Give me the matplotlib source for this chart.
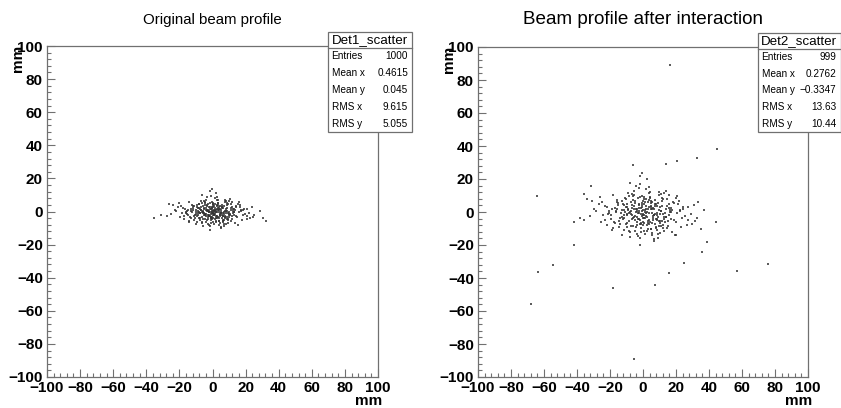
import matplotlib
matplotlib.use("Agg")
import matplotlib.pyplot as plt
from matplotlib.patches import Rectangle
from matplotlib.lines import Line2D
from matplotlib.ticker import MultipleLocator

plt.rcParams['font.family'] = ['Liberation Sans', 'DejaVu Sans']

# hit positions (mm)
det1_xy = [
    (-3.1, 1.2), (7.4, -2.8), (12.6, 0.5), (-0.7, -4.1), (4.3, 3.6), (-15.2, -1.3), (2.8, -0.4), (-8.6, 2.2), (0.4, -6.3), (18.9, 1.7), (-5.5, -0.9), (9.1, 4.4), (-1.9, -2.5), (3.6, 0.8), (-11.4, 3.1),
    (6.2, -5.2), (-21.8, 0.3), (1.5, 7.9), (15.1, -3.4), (-4.7, 5.3), (10.5, -1.6), (-2.2, -8.2), (5.9, 2.7), (-7.3, -3.7), (1.0, 0.1), (22.3, -0.8), (-13.9, -5.6), (3.2, 4.9), (-0.1, -1.1), (8.3, 6.1),
    (-9.7, 0.7), (2.4, -3.0), (16.4, 2.9), (-6.1, -7.0), (4.8, 1.4), (-1.2, 9.6), (11.8, -4.8), (-17.9, 2.0), (6.7, -0.2), (-3.6, 3.8), (0.7, -2.1), (-10.2, -0.5), (7.6, 5.7), (13.4, -6.9), (-2.6, 0.9),
    (1.8, -4.5), (-6.8, 6.6), (25.1, -1.9), (-0.5, 2.4), (5.2, -9.3), (-14.6, 1.1), (9.7, -2.3), (-4.3, -1.7), (2.5, 3.3), (17.3, 0.4), (-8.1, -4.0), (3.9, -6.0), (-1.4, 5.1), (6.5, 1.9), (-27.6, -2.6),
    (0.2, 0.6), (-12.3, 4.2), (8.8, -3.1), (-3.3, -5.0), (14.2, 3.0), (-5.9, 0.0), (2.1, 11.2), (-0.9, -3.6), (10.9, 0.9), (-7.7, 1.6), (4.5, -1.4), (-19.4, -3.3), (7.1, -7.7), (-2.0, 2.6), (1.3, -0.3),
    (20.6, -4.6), (-10.8, -2.0), (3.4, 6.8), (-4.9, -1.0), (12.1, 1.3), (-1.6, -11.4), (6.0, -2.4), (-8.4, 4.8), (0.9, 3.5), (-15.7, 0.2), (9.4, -5.3), (-3.0, 0.4), (4.0, -3.9), (-6.4, -6.5), (15.8, 5.5),
    (-0.3, 1.8), (7.9, -0.7), (-11.1, -3.0), (2.9, -2.7), (-23.9, 3.9), (5.5, 4.0), (-2.8, -4.3), (11.3, 2.1), (-7.0, 0.8), (1.1, -7.4), (18.2, -2.2), (-4.0, 7.1), (8.6, 0.3), (-13.2, 1.5), (3.7, -5.8),
    (-1.0, -0.6), (6.9, 3.2), (-9.1, -6.2), (13.0, -0.1), (0.5, 4.6), (-5.2, 2.3), (4.7, -2.0), (-17.0, -4.4), (9.9, 6.4), (-3.9, -2.9), (2.2, 1.0), (23.7, 2.5), (-6.6, -0.4), (5.0, -10.1), (-0.6, 3.0),
    (10.2, -3.5), (-12.8, 0.5), (1.7, -1.8), (-4.4, 5.9), (7.2, -4.9), (-2.4, -2.3), (16.7, 3.7), (-8.9, -1.2), (3.0, 8.5), (-0.8, -5.4), (12.8, 0.0), (-20.7, 2.8), (5.7, 2.0), (-6.3, -3.2), (0.0, -0.8),
    (8.1, 1.6), (-10.0, -7.8), (4.2, -0.5), (-1.7, 1.4), (19.6, -1.3), (-5.6, 3.4), (2.6, -4.2), (-14.1, 6.0), (6.4, -2.6), (-3.4, 0.1), (11.0, 4.3), (-7.5, -5.1), (1.4, 2.1), (-24.8, -1.5), (9.6, -6.7),
    (-0.2, -3.3), (14.5, -2.7), (-8.0, 1.9), (3.3, 5.0), (-2.7, -1.9), (6.8, -8.8), (-16.3, -0.7), (0.8, 0.7), (10.6, 7.3), (-4.8, -4.7), (28.4, 0.6), (-11.7, 2.4), (5.3, -1.1), (-1.3, 12.3), (7.7, -3.8),
    (-6.9, 0.9), (2.0, -6.6), (-19.0, 3.6), (12.3, -0.9), (-3.5, 3.1), (4.9, 1.2), (-9.4, -2.5), (17.8, -5.0), (0.1, -2.2), (-5.0, 6.3), (8.4, 0.2), (-1.5, -9.0), (3.6, 3.9), (-13.5, -3.6), (21.1, 1.8),
    (1.2, -1.5), (-7.9, 4.5), (9.3, -4.4), (-2.3, -0.2), (5.8, 2.8), (-31.2, -2.1), (13.7, 0.8), (-0.4, 5.6), (-10.5, -4.1), (4.4, -7.1), (-4.1, 1.0), (7.0, -1.7), (-15.8, -0.3), (2.7, 4.1), (11.6, -3.0),
    (-5.3, -2.4), (0.6, 2.9), (15.5, 4.7), (-8.7, 0.6), (3.1, -3.4), (-1.1, -6.8), (9.0, 2.2), (-12.0, 3.3), (6.1, -5.5), (-3.8, -1.4), (24.4, -3.1), (-20.2, 5.2), (1.9, 0.0), (-6.0, -8.6), (8.9, 3.8),
    (-0.9, 1.5), (5.4, -0.6), (-9.9, -1.6), (2.3, -5.7), (-4.6, 4.0), (12.9, -2.4), (-2.1, 0.3), (7.3, 6.9), (-17.5, -2.8), (0.3, -3.9), (10.1, -0.4), (-7.2, 2.7), (3.8, 1.7), (-14.4, -6.1), (32.1, -5.9),
    (6.6, -1.2), (-3.0, -3.5), (1.6, 4.4), (-11.9, 1.2), (8.0, -7.3), (-5.8, 0.5), (18.5, 1.0), (-1.8, 2.5), (4.6, -2.9), (-8.3, -0.1), (14.0, 3.5), (-0.1, -4.6), (-22.6, 0.9), (9.8, -1.8), (2.9, 6.7),
    (-4.5, -2.2), (11.4, -5.6), (-6.5, 5.4), (0.4, -1.0), (7.5, 0.6), (-13.0, -3.8), (3.5, 2.2), (-2.9, -7.6), (16.0, -0.3), (-9.6, 3.7), (5.6, -4.1), (-0.6, 0.4), (20.9, -2.9), (-16.8, 1.8), (1.0, -2.0),
    (8.7, 4.9), (-7.6, -1.1), (2.4, -3.7), (-35.1, -3.7), (13.1, 1.5), (-4.2, 2.0), (6.3, -6.3), (-1.4, -2.8), (30.4, -3.9), (-10.9, -5.3), (4.1, 0.9), (-3.2, 8.8), (9.5, -0.7), (-18.6, -1.0), (0.6, 5.2),
    (-5.7, -4.8), (12.0, 2.6), (-0.7, -1.3), (3.9, 3.0), (-12.5, 0.0), (7.8, -3.2), (-2.5, 4.7), (15.3, -7.9), (-8.8, -2.1), (1.6, 1.1), (-6.2, 9.9), (10.8, -1.9), (-26.0, 4.6), (5.1, -0.9), (-1.2, -4.0),
    (2.8, 1.7), (-9.3, 2.9), (6.5, -2.5), (-3.7, -6.4), (17.1, 0.7), (-15.0, -2.3), (0.0, 3.7), (8.5, -4.7), (-5.1, 1.3), (11.9, 5.9), (-1.9, -0.5), (4.0, -8.0), (-7.4, -0.8), (22.8, -4.2), (-0.3, 13.4),
]

det2_xy = [
    (-4.3, 2.1), (9.8, -5.6), (16.2, 1.4), (-1.0, -7.2), (5.7, 6.3), (-19.6, -2.0), (3.5, -0.7), (-11.7, 4.0), (0.6, -11.3), (24.1, 2.9), (-7.3, -1.5), (12.0, 8.1), (-2.4, -4.4), (4.8, 1.6), (-14.9, 5.5),
    (8.1, -9.2), (-28.3, 0.6), (1.9, 13.9), (19.7, -6.0), (-6.1, 9.4), (13.8, -2.8), (-2.9, -14.5), (7.7, 4.9), (-9.5, -6.5), (1.3, 0.2), (29.0, -1.4), (-18.1, -9.9), (4.2, 8.6), (-0.2, -2.0), (10.9, 10.8),
    (-12.6, 1.3), (3.1, -5.3), (21.3, 5.1), (-8.0, -12.4), (6.3, 2.5), (-1.6, 17.0), (15.4, -8.5), (-23.3, 3.5), (8.7, -0.4), (-4.7, 6.7), (0.9, -3.7), (-13.3, -0.9), (9.9, 10.1), (17.5, -12.2), (-3.4, 1.6),
    (2.3, -8.0), (-8.9, 11.7), (32.6, -3.4), (-0.6, 4.2), (6.8, -16.4), (-19.0, 1.9), (12.6, -4.1), (-5.6, -3.0), (3.3, 5.8), (22.5, 0.7), (-10.5, -7.1), (5.1, -10.6), (-1.8, 9.0), (8.5, 3.4), (-35.9, -4.6),
    (0.3, 1.1), (-16.0, 7.4), (11.4, -5.5), (-4.3, -8.8), (18.5, 5.3), (-7.7, 0.0), (2.7, 19.8), (-1.2, -6.4), (14.2, 1.6), (-10.0, 2.8), (5.9, -2.5), (-25.2, -5.8), (9.2, -13.6), (-2.6, 4.6), (1.7, -0.5),
    (26.8, -8.1), (-14.0, -3.5), (4.4, 12.0), (-6.4, -1.8), (15.7, 2.3), (-2.1, -20.1), (7.8, -4.2), (-10.9, 8.5), (1.2, 6.2), (-20.4, 0.4), (12.2, -9.4), (-3.9, 0.7), (5.2, -6.9), (-8.3, -11.5), (20.5, 9.7),
    (-0.4, 3.2), (10.3, -1.2), (-14.4, -5.3), (3.8, -4.8), (-31.1, 6.9), (7.2, 7.1), (-3.6, -7.6), (14.7, 3.7), (-9.1, 1.4), (1.4, -13.1), (23.7, -3.9), (-5.2, 12.5), (11.2, 0.5), (-17.2, 2.6), (4.8, -10.2),
    (-1.3, -1.1), (9.0, 5.7), (-11.8, -10.9), (16.9, -0.2), (0.7, 8.1), (-6.8, 4.1), (6.1, -3.5), (-22.1, -7.8), (12.9, 11.3), (-5.1, -5.1), (2.9, 1.8), (30.8, 4.4), (-8.6, -0.7), (6.5, -17.8), (-0.8, 5.3),
    (13.3, -6.2), (-16.6, 0.9), (2.2, -3.2), (-5.7, 10.4), (9.4, -8.6), (-3.1, -4.1), (21.7, 6.5), (-11.6, -2.1), (3.9, 15.0), (-1.0, -9.5), (16.6, 0.0), (-26.9, 4.9), (7.4, 3.5), (-8.2, -5.6), (0.0, -1.4),
    (10.5, 2.8), (-13.0, -13.8), (5.5, -0.9), (-2.2, 2.5), (25.5, -2.3), (-7.3, 6.0), (3.4, -7.4), (-18.3, 10.6), (8.3, -4.6), (-4.4, 0.2), (14.3, 7.6), (-9.8, -9.0), (1.8, 3.7), (-32.2, -2.6), (12.5, -11.8),
    (-0.3, -5.8), (18.9, -4.8), (-10.4, 3.3), (4.3, 8.8), (-3.5, -3.3), (8.8, -15.5), (-21.2, -1.2), (1.0, 1.2), (13.8, 12.9), (-6.2, -8.3), (36.9, 1.1), (-15.2, 4.2), (6.9, -1.9), (-1.7, 21.7), (10.0, -6.7),
    (-9.0, 1.6), (2.6, -11.6), (-24.7, 6.3), (16.0, -1.6), (-4.6, 5.5), (6.4, 2.1), (-12.2, -4.4), (23.1, -8.8), (0.1, -3.9), (-6.5, 11.1), (10.9, 0.4), (-2.0, -15.9), (4.7, 6.9), (-17.5, -6.3), (27.4, 3.2),
    (1.6, -2.6), (-10.3, 7.9), (12.1, -7.8), (-3.0, -0.4), (7.5, 4.9), (-38.4, -3.7), (17.8, 1.4), (-0.5, 9.9), (-13.7, -7.2), (5.7, -12.5), (-5.3, 1.8), (9.1, -3.0), (-20.5, -0.5), (3.5, 7.2), (15.1, -5.3),
    (-6.9, -4.2), (0.8, 5.1), (20.1, 8.3), (-11.3, 1.1), (4.0, -6.0), (-1.4, -12.0), (11.7, 3.9), (-15.6, 5.8), (7.9, -9.7), (-4.9, -2.5), (31.7, -5.5), (-26.2, 9.2), (2.5, 0.0), (-7.8, -15.1), (11.6, 6.7),
    (-1.2, 2.6), (7.0, -1.1), (-12.9, -2.8), (3.0, -10.0), (-6.0, 7.0), (16.8, -4.2), (-2.7, 0.5), (9.5, 12.2), (-22.8, -4.9), (0.4, -6.9), (13.1, -0.7), (-9.4, 4.8), (4.9, 3.0), (-18.7, -10.7), (35.3, -10.4),
    (8.6, -2.1), (-3.9, -6.2), (2.1, 7.8), (-15.5, 2.1), (10.4, -12.9), (-7.5, 0.9), (24.0, 1.8), (-2.3, 4.4), (6.0, -5.1), (-10.8, -0.2), (18.2, 6.2), (-0.1, -8.1), (-29.4, 1.6), (12.7, -3.2), (3.8, 11.8),
    (-5.8, -3.9), (14.8, -9.9), (-8.5, 9.5), (0.5, -1.8), (9.8, 1.1), (-16.9, -6.7), (4.6, 3.9), (-3.8, -13.4), (20.8, -0.5), (-12.5, 6.5), (7.3, -7.2), (-0.8, 0.7), (27.2, -5.1), (-21.8, 3.2), (1.3, -3.5),
    (11.3, 8.6), (-9.9, -1.9), (3.1, -6.5), (-2.5, 14.6), (17.0, 2.6), (-5.5, 3.5), (8.2, -11.1), (-1.8, -4.9), (-14.8, -9.3), (5.3, 1.6), (-4.2, 15.5), (12.4, -1.2), (-24.2, -1.8), (0.8, 9.2), (19.3, -14.0),
    (-7.4, -8.5), (15.6, 4.6), (-0.9, -2.3), (5.1, 5.3), (-16.3, 0.0), (10.1, -5.7), (-3.3, 8.3), (19.9, -13.9), (-11.4, -3.7), (2.1, 1.9), (-8.1, 17.4), (14.0, -3.3), (-33.8, 8.1), (6.6, -1.6), (-1.6, -7.0),
    (3.6, 3.0), (-12.1, 5.1), (8.4, -4.4), (-4.8, -11.3), (22.2, 1.2), (-19.5, -4.0), (0.0, 6.5), (11.0, -8.3), (-6.6, 2.3), (15.5, 10.4), (-2.5, -0.9), (5.2, -14.1), (-9.6, -1.4), (29.7, -7.4), (-0.4, 23.6),
    # scattered tails
    (16.6, 89.0), (45.0, 38.0), (32.7, 33.0), (20.4, 31.0), (13.7, 29.0), (-6.0, 28.6), (-64.0, 10.0),
    (-31.5, 16.0), (-36.0, 11.0), (-42.0, -6.0), (44.0, -6.0), (33.5, 6.0), (39.0, -18.0), (35.5, -24.0),
    (25.0, -31.0), (16.0, -37.0), (7.5, -44.5), (-18.0, -46.0), (-41.6, -20.0), (-54.5, -32.0),
    (-63.6, -36.5), (-67.7, -56.0), (57.0, -36.0), (76.0, -31.7), (-5.7, -89.0),
]

titles = ["Original beam profile", "Beam profile after interaction"]
hist_names = ["Det1_scatter", "Det2_scatter"]
stat_labels = ["Entries", "Mean x", "Mean y", "RMS x", "RMS y"]
det1_stats = ["1000", "0.4615", "0.045", "9.615", "5.055"]
det2_stats = ["999", "0.2762", "\u22120.3347", "13.63", "10.44"]

W, H = 841, 408
fig = plt.figure(figsize=(W / 100, H / 100), dpi=100)

frame_col = "#707070"


def px_box(l, t, r, b):
    return [l / W, (H - b) / H, (r - l) / W, (b - t) / H]


panels = [
    dict(rect=(47, 46, 378, 377), pts=det1_xy, title=titles[0], tsize=10.8,
         name=hist_names[0], stats=det1_stats, box=(328, 32, 412, 132)),
    dict(rect=(478, 47, 808, 377), pts=det2_xy, title=titles[1], tsize=13.6,
         name=hist_names[1], stats=det2_stats, box=(758, 33, 840.5, 132)),
]

for p in panels:
    l, t, r, b = p["rect"]
    ax = fig.add_axes(px_box(l, t, r, b))
    xs = [q[0] for q in p["pts"]]
    ys = [q[1] for q in p["pts"]]
    ax.scatter(xs, ys, s=0.7, marker="s", c="#333333", linewidths=0, alpha=0.8)
    ax.set_xlim(-100, 100)
    ax.set_ylim(-100, 100)
    ax.xaxis.set_major_locator(MultipleLocator(20))
    ax.yaxis.set_major_locator(MultipleLocator(20))
    ax.xaxis.set_minor_locator(MultipleLocator(4))
    ax.yaxis.set_minor_locator(MultipleLocator(4))
    ax.tick_params(which="both", direction="in", color=frame_col, width=0.8,
                   top=False, right=False)
    ax.tick_params(which="major", length=5.8, pad=3, labelsize=11)
    ax.tick_params(which="minor", length=2.9)
    for lab in ax.get_xticklabels() + ax.get_yticklabels():
        lab.set_fontweight("bold")
    for sp in ax.spines.values():
        sp.set_color(frame_col)
        sp.set_linewidth(0.9)

    # titles and axis titles
    fig.text((l + r) / 2 / W, 1 - 20 / H, p["title"], ha="center", va="center",
             fontsize=p["tsize"])
    fig.text((r + 4) / W, 1 - 394 / H, "mm", ha="right", va="top",
             fontsize=11, fontweight="bold")
    fig.text((l - 29) / W, 1 - (t - 1) / H, "mm", ha="center", va="top",
             rotation=90, fontsize=11, fontweight="bold")

    # stats box
    bl, bt, br, bb = p["box"]
    fig.add_artist(Rectangle((bl / W, 1 - bb / H), (br - bl) / W, (bb - bt) / H,
                             transform=fig.transFigure, facecolor="white",
                             edgecolor=frame_col, linewidth=0.9, zorder=5))
    sep = bt + 15.5
    fig.add_artist(Line2D([bl / W, br / W], [1 - sep / H, 1 - sep / H],
                          transform=fig.transFigure, color=frame_col,
                          linewidth=0.9, zorder=6))
    fig.text((bl + br) / 2 / W, 1 - (bt + 8) / H, p["name"], ha="center",
             va="center", fontsize=9.6, zorder=7)
    row_h = (bb - sep) / 5
    for i, (lab, val) in enumerate(zip(stat_labels, p["stats"])):
        yc = sep + row_h * (i + 0.5)
        fig.text((bl + 3.5) / W, 1 - yc / H, lab, ha="left", va="center",
                 fontsize=7.2, family=["Liberation Sans Narrow", "Liberation Sans"],
                 zorder=7)
        fig.text((br - 4) / W, 1 - yc / H, val, ha="right", va="center",
                 fontsize=7.2, family=["Liberation Sans Narrow", "Liberation Sans"],
                 zorder=7)

fig.savefig("out.png", dpi=100)
